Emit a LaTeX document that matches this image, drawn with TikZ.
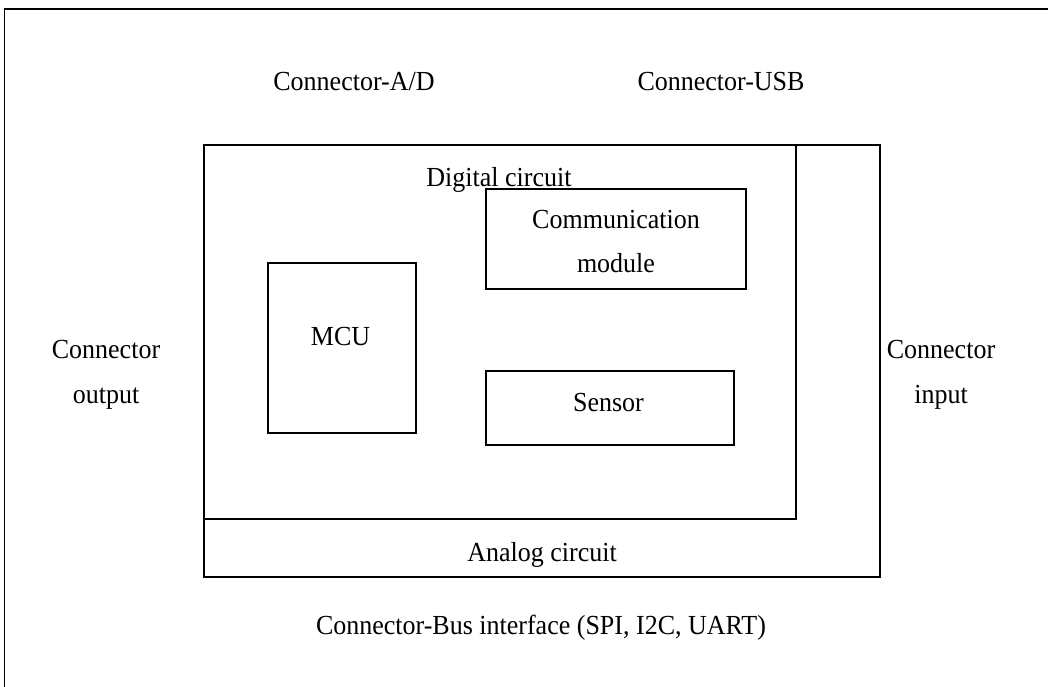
\documentclass[tikz,border=0pt]{standalone}
\usepackage{fontspec}
\setmainfont{Liberation Serif}
\begin{document}
\begin{tikzpicture}[x=1pt,y=-1pt,
  box/.style={draw=black,line width=1.7pt,rectangle,inner sep=0pt},
  lbl/.style={font=\fontsize{26}{42}\selectfont,inner sep=0pt,align=center,yscale=1.06},
  frame/.style={line width=1.7pt,line cap=rect}]
\useasboundingbox (0,0) rectangle (1048,686);
% outer frame (only top and left edges visible)
\coordinate (ftl) at (4.5,9);
\coordinate (ftr) at (1048,9);
\coordinate (fbl) at (4.5,686);
\draw[frame] (fbl) -- (ftl) -- (ftr);
% boxes
\node[box,minimum width=676pt,minimum height=432pt] (analog) at (542,361) {};
\node[box,minimum width=592pt,minimum height=374pt] (digital) at (500,332) {};
\node[box,minimum width=260pt,minimum height=100pt] (comm) at (616,239) {};
\node[box,minimum width=148pt,minimum height=170pt] (mcu) at (342,348) {};
\node[box,minimum width=248pt,minimum height=74pt] (sensor) at (610,408) {};
% labels
\node[lbl,anchor=base] (lad) at (354,90) {Connector-A/D};
\node[lbl,anchor=base] (lusb) at (721,90) {Connector-USB};
\node[lbl,anchor=base] (ldig) at (499,186) {Digital circuit};
\node[lbl] (lcomm) at (616,241.5) {Communication\\module};
\node[lbl,anchor=base] (lmcu) at (340.5,345) {MCU};
\node[lbl,anchor=base] (lsen) at (608.5,411.7) {Sensor};
\node[lbl] (lout) at (106,375) {Connector\\output};
\node[lbl] (lin) at (941,375) {Connector\\input};
\node[lbl,anchor=base] (lana) at (542,561) {Analog circuit};
\node[lbl,anchor=base] (lbus) at (541,634.3) {Connector-Bus interface (SPI, I2C, UART)};
\end{tikzpicture}
\end{document}
